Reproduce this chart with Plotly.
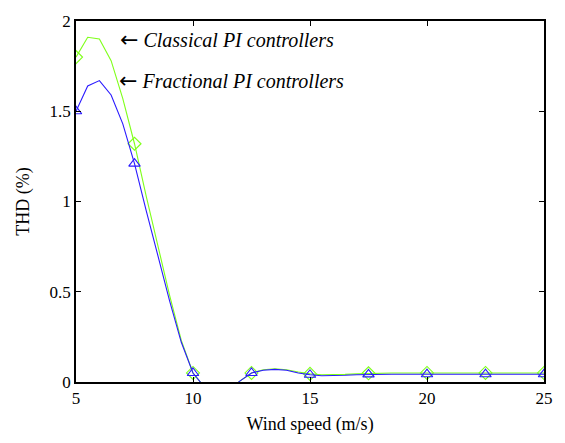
import plotly.graph_objects as go

wind = [5, 5.5, 6, 6.5, 7, 7.5, 8, 8.5, 9, 9.5, 10, 10.5, 11, 11.5, 12, 12.5,
        13, 13.5, 14, 14.5, 15, 15.5, 16, 16.5, 17, 17.5, 18, 18.5, 19, 19.5,
        20, 20.5, 21, 21.5, 22, 22.5, 23, 23.5, 24, 24.5, 25]
thd_classical = [1.80, 1.91, 1.90, 1.78, 1.57, 1.32, 1.03, 0.75, 0.48, 0.23, 0.05,
                 -0.03, -0.08, -0.05, 0.005, 0.05, 0.068, 0.073, 0.068, 0.055, 0.045,
                 0.04, 0.04, 0.042, 0.045, 0.048, 0.05, 0.05, 0.05, 0.05,
                 0.05, 0.05, 0.05, 0.05, 0.05, 0.05, 0.05, 0.05, 0.05, 0.05, 0.05]
thd_fractional = [1.50, 1.64, 1.67, 1.59, 1.43, 1.21, 0.95, 0.70, 0.45, 0.22, 0.05,
                  -0.03, -0.08, -0.05, 0.005, 0.05, 0.065, 0.07, 0.065, 0.05, 0.04,
                  0.035, 0.035, 0.037, 0.04, 0.042, 0.043, 0.043, 0.043, 0.043,
                  0.043, 0.043, 0.043, 0.043, 0.043, 0.043, 0.043, 0.043, 0.043, 0.043, 0.043]
marker_step = 5
x_ticks = [5, 10, 15, 20, 25]
y_ticks = [0, 0.5, 1, 1.5, 2]
y_tick_labels = ["0", "0.5", "1", "1.5", "2"]

GREEN = "#7fff1a"
BLUE = "#2a1aff"
FONT = "Liberation Serif, Times New Roman, serif"

fig = go.Figure()
fig.add_trace(go.Scatter(x=wind, y=thd_classical, mode="lines",
                         line=dict(color=GREEN, width=1.1), showlegend=False))
fig.add_trace(go.Scatter(x=wind[::marker_step], y=thd_classical[::marker_step], mode="markers",
                         marker=dict(symbol="diamond-open", size=10, color=GREEN,
                                     line=dict(width=1.1, color=GREEN)), showlegend=False))
fig.add_trace(go.Scatter(x=wind, y=thd_fractional, mode="lines",
                         line=dict(color=BLUE, width=1.1), showlegend=False))
fig.add_trace(go.Scatter(x=wind[::marker_step], y=thd_fractional[::marker_step], mode="markers",
                         marker=dict(symbol="triangle-up-open", size=10, color=BLUE,
                                     line=dict(width=1.1, color=BLUE)), showlegend=False))

ARROW = "<span style='font-family:DejaVu Sans; font-size:22px'>←</span> "
fig.add_annotation(x=6.8, y=1.895, xref="x", yref="y", text=ARROW + "<i>Classical PI controllers</i>",
                   showarrow=False, xanchor="left", yanchor="middle",
                   font=dict(family=FONT, size=20, color="black"))
fig.add_annotation(x=6.77, y=1.67, xref="x", yref="y", text=ARROW + "<i>Fractional PI controllers</i>",
                   showarrow=False, xanchor="left", yanchor="middle",
                   font=dict(family=FONT, size=20, color="black"))

axis_common = dict(showgrid=False, zeroline=False, showline=True, linecolor="black",
                   linewidth=1.5, mirror="ticks", ticks="inside", ticklen=5,
                   tickcolor="black", tickfont=dict(family=FONT, size=17, color="black"))
fig.update_xaxes(range=[5, 25], tickvals=x_ticks,
                 title=dict(text="Wind speed (m/s)", font=dict(family=FONT, size=18, color="black"),
                            standoff=10),
                 **axis_common)
fig.update_yaxes(range=[0, 2], tickvals=y_ticks, ticktext=y_tick_labels,
                 title=dict(text="THD (%)", font=dict(family=FONT, size=18, color="black"),
                            standoff=15),
                 **axis_common)
fig.update_layout(width=565, height=443, margin=dict(l=76, r=16, t=12, b=59),
                  plot_bgcolor="white", paper_bgcolor="white",
                  font=dict(family=FONT))
fig.write_html("out.html")
